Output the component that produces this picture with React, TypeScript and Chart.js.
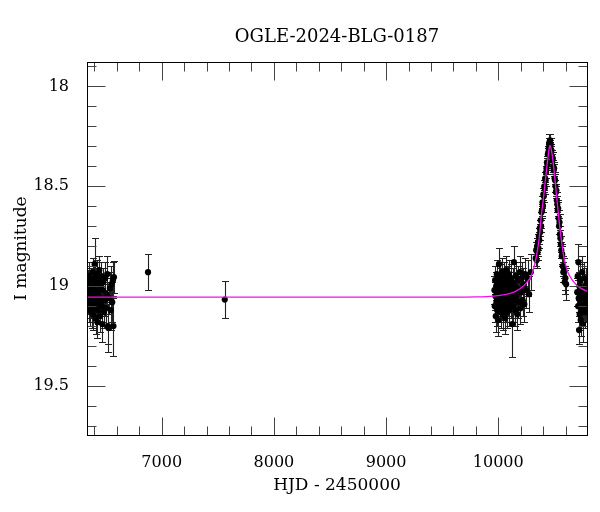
import { useEffect, useRef } from 'react'
import Chart from 'chart.js/auto'

// [HJD - 2450000, I mag, error]
type Obs = [number, number, number]

const season2013: Obs[] = [
  [6341, 19.02, 0.06], [6344, 19.07, 0.07], [6347, 18.98, 0.06], [6350, 19.1, 0.08],
  [6353, 19.04, 0.06], [6356, 18.95, 0.07], [6359, 19.12, 0.08], [6362, 19.06, 0.06],
  [6366, 19.0, 0.06], [6369, 19.09, 0.07], [6372, 18.97, 0.06], [6375, 19.05, 0.06],
  [6378, 19.13, 0.08], [6381, 19.03, 0.06], [6384, 18.93, 0.07], [6387, 19.14, 0.08],
  [6391, 19.01, 0.06], [6394, 19.08, 0.07], [6397, 18.96, 0.06], [6400, 19.04, 0.06],
  [6402, 18.89, 0.13], [6405, 19.11, 0.07], [6408, 19.02, 0.06], [6411, 19.16, 0.08],
  [6414, 18.99, 0.06], [6417, 19.06, 0.07], [6420, 18.94, 0.07], [6423, 19.09, 0.07],
  [6427, 19.18, 0.08], [6430, 19.03, 0.06], [6433, 18.97, 0.06], [6436, 19.12, 0.07],
  [6440, 19.05, 0.06], [6443, 18.92, 0.07], [6447, 19.08, 0.07], [6450, 19.15, 0.08],
  [6454, 19.0, 0.06], [6458, 19.06, 0.07], [6462, 18.95, 0.07], [6466, 19.1, 0.08],
  [6470, 19.19, 0.09], [6474, 19.02, 0.07], [6479, 18.98, 0.07], [6484, 19.13, 0.08],
  [6490, 19.07, 0.08], [6496, 18.96, 0.08], [6502, 19.11, 0.09], [6508, 19.04, 0.08],
  [6514, 18.94, 0.09], [6521, 19.2, 0.09], [6525, 19.21, 0.12], [6531, 19.06, 0.08],
  [6538, 19.01, 0.08], [6546, 19.12, 0.1], [6552, 18.99, 0.09], [6559, 19.08, 0.1],
  [6565, 18.97, 0.09], [6570, 19.2, 0.15], [6574, 18.955, 0.08],
]

const sparse: Obs[] = [
  [6878, 18.93, 0.09], [7562, 19.067, 0.092],
]

const season2023: Obs[] = [
  [9966, 19.02, 0.07], [9969, 19.1, 0.08], [9972, 18.97, 0.07], [9975, 19.05, 0.07],
  [9978, 19.15, 0.08], [9981, 19.0, 0.07], [9984, 19.08, 0.07], [9987, 18.94, 0.07],
  [9990, 19.12, 0.08], [9993, 19.03, 0.07], [9996, 18.99, 0.06], [9999, 19.07, 0.07],
  [10002, 19.17, 0.08], [10006, 18.89, 0.08], [10009, 19.04, 0.07], [10012, 19.11, 0.07],
  [10015, 18.96, 0.07], [10018, 19.06, 0.07], [10021, 19.01, 0.06], [10024, 19.13, 0.08],
  [10027, 18.98, 0.07], [10030, 19.09, 0.07], [10033, 19.03, 0.06], [10036, 18.93, 0.07],
  [10039, 19.14, 0.08], [10042, 19.05, 0.07], [10045, 19.0, 0.06], [10048, 19.1, 0.07],
  [10051, 18.95, 0.07], [10054, 19.07, 0.07], [10057, 19.02, 0.06], [10060, 19.16, 0.08],
  [10063, 18.98, 0.07], [10066, 19.04, 0.07], [10069, 19.11, 0.07], [10072, 18.92, 0.07],
  [10075, 19.06, 0.07], [10078, 19.01, 0.06], [10081, 19.13, 0.08], [10084, 18.97, 0.07],
  [10087, 19.08, 0.07], [10090, 19.03, 0.06], [10094, 18.94, 0.07], [10098, 19.12, 0.08],
  [10102, 19.05, 0.07], [10106, 18.99, 0.06], [10110, 19.09, 0.07], [10114, 18.96, 0.07],
  [10118, 19.06, 0.07], [10122, 19.02, 0.07], [10125, 19.19, 0.165], [10129, 18.98, 0.07],
  [10133, 19.1, 0.08], [10137, 19.04, 0.07], [10140, 18.88, 0.08], [10144, 19.07, 0.07],
  [10148, 19.0, 0.07], [10152, 19.12, 0.08], [10156, 18.95, 0.07], [10160, 19.05, 0.07],
  [10165, 19.01, 0.07], [10170, 19.14, 0.08], [10175, 18.97, 0.07], [10180, 19.08, 0.08],
  [10186, 19.02, 0.07], [10192, 18.93, 0.08], [10198, 19.11, 0.08], [10204, 19.03, 0.07],
  [10210, 18.96, 0.08], [10217, 19.07, 0.08], [10224, 18.99, 0.08], [10232, 19.09, 0.09],
  [10240, 18.94, 0.08], [10250, 19.02, 0.09], [10262, 18.96, 0.09], [10275, 19.04, 0.09],
  [10290, 18.93, 0.09],
]

const season2024: Obs[] = [
  [10334, 18.86, 0.04], [10338, 18.82, 0.04], [10342, 18.87, 0.04], [10346, 18.8, 0.04],
  [10350, 18.83, 0.04], [10354, 18.78, 0.04], [10358, 18.81, 0.04], [10362, 18.75, 0.04],
  [10366, 18.77, 0.04], [10370, 18.71, 0.04], [10374, 18.73, 0.04], [10378, 18.67, 0.04],
  [10382, 18.7, 0.03], [10386, 18.63, 0.03], [10390, 18.62, 0.03], [10394, 18.58, 0.03],
  [10398, 18.6, 0.03], [10402, 18.54, 0.03], [10406, 18.55, 0.03], [10410, 18.5, 0.03],
  [10414, 18.51, 0.03], [10418, 18.46, 0.03], [10422, 18.47, 0.03], [10426, 18.43, 0.03],
  [10430, 18.41, 0.03], [10434, 18.38, 0.03], [10438, 18.39, 0.03], [10442, 18.34, 0.03],
  [10446, 18.33, 0.03], [10450, 18.31, 0.03], [10453, 18.29, 0.03], [10456, 18.28, 0.04],
  [10459, 18.3, 0.03], [10462, 18.27, 0.03], [10465, 18.31, 0.03], [10468, 18.29, 0.03],
  [10471, 18.33, 0.03], [10474, 18.32, 0.03], [10478, 18.35, 0.03], [10482, 18.37, 0.03],
  [10486, 18.36, 0.03], [10490, 18.4, 0.03], [10494, 18.42, 0.03], [10498, 18.41, 0.03],
  [10502, 18.46, 0.03], [10506, 18.47, 0.03], [10510, 18.5, 0.03], [10514, 18.53, 0.03],
  [10518, 18.52, 0.03], [10522, 18.57, 0.04], [10526, 18.59, 0.04], [10530, 18.62, 0.04],
  [10534, 18.61, 0.04], [10538, 18.66, 0.04], [10542, 18.7, 0.04], [10546, 18.68, 0.04],
  [10550, 18.74, 0.04], [10554, 18.76, 0.04], [10558, 18.79, 0.04], [10562, 18.82, 0.04],
  [10566, 18.85, 0.05], [10570, 18.84, 0.05], [10575, 18.9, 0.05], [10580, 18.93, 0.05],
  [10586, 18.91, 0.05], [10592, 18.98, 0.06], [10598, 18.96, 0.06], [10605, 18.99, 0.08],
]

const season2025: Obs[] = [
  [10704, 19.03, 0.07], [10708, 18.95, 0.08], [10712, 19.1, 0.08], [10714, 18.88, 0.09],
  [10717, 19.06, 0.07], [10720, 19.22, 0.07], [10723, 19.0, 0.07], [10726, 19.14, 0.08],
  [10729, 19.04, 0.07], [10732, 18.97, 0.08], [10735, 19.17, 0.08], [10738, 19.08, 0.07],
  [10741, 19.02, 0.07], [10744, 19.12, 0.08], [10748, 18.93, 0.08], [10752, 19.06, 0.07],
  [10756, 19.19, 0.09], [10760, 19.01, 0.07], [10764, 19.09, 0.08], [10768, 18.96, 0.08],
  [10772, 19.13, 0.08], [10776, 19.04, 0.07], [10780, 19.1, 0.08], [10784, 18.99, 0.08],
  [10788, 19.07, 0.08],
]

// microlensing model
const modelHjd = [
  6334, 8000, 9600, 9800, 9900, 10000, 10100, 10150, 10200, 10250, 10300, 10325,
  10345, 10365, 10385, 10400, 10420, 10440, 10450, 10461, 10470, 10480, 10490,
  10500, 10520, 10540, 10560, 10580, 10600, 10620, 10660, 10700, 10750, 10791,
]
const modelMag = [
  19.055, 19.055, 19.055, 19.054, 19.052, 19.047, 19.037, 19.027, 19.01, 18.985, 18.94, 18.89,
  18.835, 18.76, 18.64, 18.575, 18.47, 18.37, 18.325, 18.295, 18.31, 18.34, 18.385,
  18.435, 18.55, 18.66, 18.76, 18.84, 18.895, 18.93, 18.97, 18.995, 19.015, 19.025,
]

const xTicks = [7000, 8000, 9000, 10000]
const yTicks = [18, 18.5, 19, 19.5]
const xLimits = [6334, 10791]
const yLimits = [17.878, 19.745]

const chartTitle = 'OGLE-2024-BLG-0187'
const serif = '"DejaVu Serif", "Liberation Serif", serif'

const observations = [...season2013, ...sparse, ...season2023, ...season2024, ...season2025]

const errorBars = {
  id: 'errorBars',
  beforeDatasetsDraw(chart: any) {
    const { ctx, chartArea, scales: { x, y } } = chart
    ctx.save()
    ctx.beginPath()
    ctx.rect(chartArea.left, chartArea.top, chartArea.right - chartArea.left, chartArea.bottom - chartArea.top)
    ctx.clip()
    ctx.strokeStyle = '#222'
    ctx.lineWidth = 1.1
    ctx.beginPath()
    observations.forEach(([t, m, e]) => {
      const px = Math.round(x.getPixelForValue(t)) + 0.5
      const y1 = y.getPixelForValue(m - e)
      const y2 = y.getPixelForValue(m + e)
      ctx.moveTo(px, y1)
      ctx.lineTo(px, y2)
      ctx.moveTo(px - 3.5, Math.round(y1) + 0.5)
      ctx.lineTo(px + 3.5, Math.round(y1) + 0.5)
      ctx.moveTo(px - 3.5, Math.round(y2) + 0.5)
      ctx.lineTo(px + 3.5, Math.round(y2) + 0.5)
    })
    ctx.stroke()
    ctx.restore()
  },
}

const frameAndTicks = {
  id: 'frameAndTicks',
  afterDatasetsDraw(chart: any) {
    const { ctx, chartArea: { left, right, top, bottom }, scales: { x, y } } = chart
    const l = Math.round(left) + 0.5
    const r = Math.round(right) + 0.5
    const t = Math.round(top) + 0.5
    const b = Math.round(bottom) + 0.5
    ctx.save()
    ctx.strokeStyle = '#444'
    ctx.lineWidth = 1
    ctx.beginPath()
    for (let v = 6400; v <= xLimits[1]; v += 200) {
      const px = Math.round(x.getPixelForValue(v)) + 0.5
      const len = v % 1000 === 0 ? 18 : 9
      ctx.moveTo(px, b)
      ctx.lineTo(px, b - len)
      ctx.moveTo(px, t)
      ctx.lineTo(px, t + len)
    }
    for (let i = 179; i <= 197; i++) {
      const py = Math.round(y.getPixelForValue(i / 10)) + 0.5
      const len = i % 5 === 0 ? 18 : 9
      ctx.moveTo(l, py)
      ctx.lineTo(l + len, py)
      ctx.moveTo(r, py)
      ctx.lineTo(r - len, py)
    }
    ctx.stroke()
    ctx.strokeStyle = '#000'
    ctx.strokeRect(l, t, r - l, b - t)
    ctx.restore()
  },
  afterDraw(chart: any) {
    const { ctx, chartArea } = chart
    ctx.save()
    ctx.font = `18px ${serif}`
    ctx.fillStyle = '#000'
    ctx.textAlign = 'center'
    ctx.textBaseline = 'alphabetic'
    ctx.fillText(chartTitle, (chartArea.left + chartArea.right) / 2, 41.5)
    ctx.restore()
  },
}

const App = () => {
  const chartRef = useRef<HTMLCanvasElement>(null)

  useEffect(() => {
    document.body.style.margin = '0'
    const ctx = chartRef.current!.getContext('2d')!
    const chart = new Chart(ctx, {
      type: 'scatter',
      data: {
        datasets: [
          {
            label: 'model',
            data: modelHjd.map((t, i) => ({ x: t, y: modelMag[i] })),
            showLine: true,
            borderColor: '#f010f0',
            borderWidth: 1.3,
            pointRadius: 0,
            cubicInterpolationMode: 'monotone',
            order: 0,
          },
          {
            label: 'OGLE I',
            data: observations.map(([t, m]) => ({ x: t, y: m })),
            backgroundColor: '#000',
            borderWidth: 0,
            pointRadius: 3.1,
            order: 1,
          },
        ],
      },
      options: {
        animation: false,
        responsive: false,
        events: [],
        layout: { padding: { top: 62, right: 13, left: 0, bottom: 0 } },
        plugins: {
          legend: { display: false },
          tooltip: { enabled: false },
          title: { display: false },
        },
        scales: {
          x: {
            type: 'linear',
            min: xLimits[0],
            max: xLimits[1],
            grid: { display: false },
            border: { display: false },
            afterBuildTicks: (s: any) => { s.ticks = xTicks.map((value) => ({ value })) },
            afterFit: (s: any) => { s.height = 77 },
            ticks: {
              padding: 10,
              color: '#000',
              maxRotation: 0,
              autoSkip: false,
              font: { family: serif, size: 16 },
              callback: (v: any) => String(v),
            },
            title: {
              display: true,
              text: 'HJD - 2450000',
              color: '#000',
              font: { family: serif, size: 17 },
              padding: { top: 0, bottom: 16 },
            },
          },
          y: {
            type: 'linear',
            reverse: true,
            min: yLimits[0],
            max: yLimits[1],
            grid: { display: false },
            border: { display: false },
            afterBuildTicks: (s: any) => { s.ticks = yTicks.map((value) => ({ value })) },
            afterFit: (s: any) => { s.width = 87 },
            ticks: {
              padding: 10,
              color: '#000',
              autoSkip: false,
              font: { family: serif, size: 16 },
              callback: (v: any) => String(v),
            },
            title: {
              display: true,
              text: 'I magnitude',
              color: '#000',
              font: { family: serif, size: 17 },
              padding: { top: 11, bottom: 0 },
            },
          },
        },
      },
      plugins: [errorBars, frameAndTicks],
    })

    return () => chart.destroy()
  }, [])

  return (
    <div style={{ width: 600, height: 512, background: '#fff' }}>
      <canvas ref={chartRef} width={600} height={512}></canvas>
    </div>
  )
}

export default App
